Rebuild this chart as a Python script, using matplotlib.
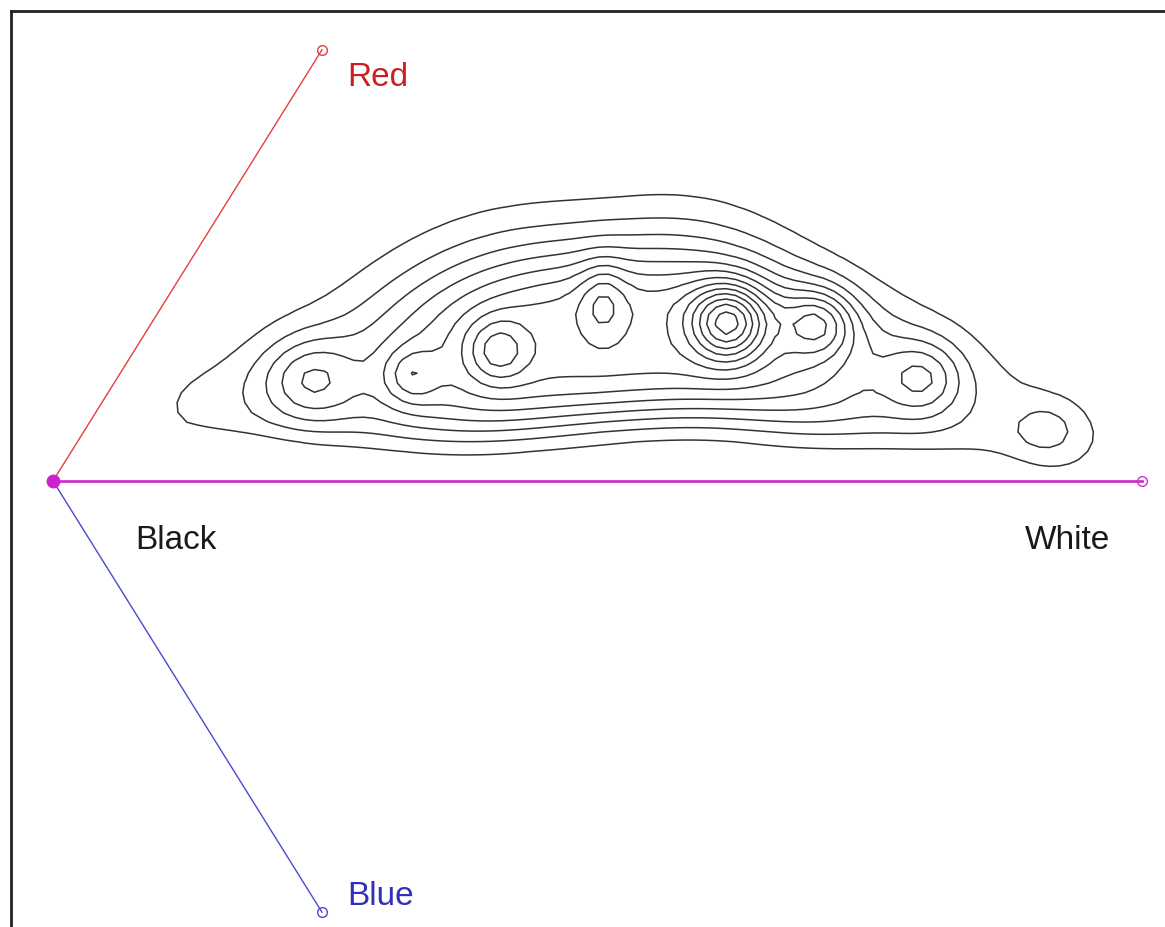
import numpy as np
import matplotlib.pyplot as plt

# colour-space projection: black at origin, white along +x
axis_names = ["Red", "White", "Blue"]
axis_tip_x = [0.247, 1.0, 0.247]
axis_tip_y = [0.396, 0.0, -0.396]
axis_colors = ["#e04040", "#cc33cc", "#4a4ad0"]

label_text = ["Red", "Blue", "Black", "White"]
label_x = [0.270, 0.270, 0.0753, 0.9706]
label_y = [0.3627, -0.389, -0.0624, -0.0624]
label_ha = ["left", "left", "left", "right"]
label_colors = ["#cc2020", "#3030b8", "#1a1a1a", "#1a1a1a"]

# broad ridge of the distribution: centre x, centre y, height,
# spread above the crest, spread below it (flat-topped, steep edge)
ridge_x = [0.12, 0.17, 0.22, 0.27, 0.32, 0.37, 0.42, 0.47, 0.52, 0.57, 0.62, 0.67, 0.72, 0.77, 0.82, 0.87, 0.92, 0.96]
ridge_y = [0.068, 0.080, 0.092, 0.103, 0.115, 0.127, 0.140, 0.148, 0.150, 0.152, 0.150, 0.140, 0.122, 0.100, 0.080, 0.060, 0.040, 0.028]
ridge_h = [0.62, 0.72, 0.95, 1.10, 1.90, 2.90, 3.30, 3.40, 3.40, 3.40, 3.30, 2.90, 2.20, 1.20, 0.85, 0.65, 0.45, 0.35]
ridge_up = [0.028, 0.032, 0.042, 0.050, 0.056, 0.058, 0.058, 0.054, 0.054, 0.058, 0.054, 0.045, 0.040, 0.045, 0.048, 0.045, 0.040, 0.035]
ridge_dn = [0.025, 0.032, 0.045, 0.058, 0.068, 0.075, 0.082, 0.082, 0.081, 0.079, 0.078, 0.079, 0.070, 0.058, 0.045, 0.036, 0.040, 0.030]
ridge_sx = 0.045

# local modes: centre x, centre y, height, spread x, spread y
peak_x = [0.236, 0.328, 0.408, 0.505, 0.620, 0.704, 0.799, 0.913]
peak_y = [0.093, 0.097, 0.120, 0.166, 0.146, 0.146, 0.095, 0.047]
peak_h = [2.9, 2.3, 2.8, 2.0, 6.5, 3.6, 3.0, 1.5]
peak_sx = [0.030, 0.018, 0.020, 0.015, 0.024, 0.022, 0.025, 0.022]
peak_sy = [0.027, 0.018, 0.020, 0.025, 0.024, 0.022, 0.024, 0.018]

levels = list(range(1, 15))

fig = plt.figure(figsize=(11.65, 9.27), dpi=100)
ax = fig.add_axes([11 / 1165, 0, 1 - 11 / 1165, 916 / 927])
ax.set_xlim(-0.03857, 1.0211)
ax.set_ylim(-0.4096, 0.4316)
ax.set_xticks([])
ax.set_yticks([])
for side in ["right", "bottom"]:
    ax.spines[side].set_visible(False)
for side in ["left", "top"]:
    ax.spines[side].set_linewidth(2)
    ax.spines[side].set_color("#222222")

gx = np.arange(0.06, 1.0, 0.009)
gy = np.arange(0.0, 0.33, 0.009)
X, Y = np.meshgrid(gx, gy)
Z = np.zeros_like(X)
for cx, cy, h, su, sd in zip(ridge_x, ridge_y, ridge_h, ridge_up, ridge_dn):
    across = np.where(Y > cy, ((Y - cy) / su) ** 2, ((Y - cy) / sd) ** 4)
    Z += h * np.exp(-0.5 * (((X - cx) / ridge_sx) ** 2 + across))
for cx, cy, h, sx, sy in zip(peak_x, peak_y, peak_h, peak_sx, peak_sy):
    Z += h * np.exp(-0.5 * (((X - cx) / sx) ** 2 + ((Y - cy) / sy) ** 2))
ax.contour(X, Y, Z, levels=levels, colors="#333333", linewidths=1.1)

for name, tx, ty, col in zip(axis_names, axis_tip_x, axis_tip_y, axis_colors):
    lw = 2.0 if name == "White" else 1.0
    ax.plot([0, tx], [0, ty], color=col, lw=lw, zorder=3)
    ax.plot(tx, ty, "o", ms=7, mfc="none", mec=col, mew=1.0, zorder=4)
ax.plot(0, 0, "o", ms=9, color="#cc22cc", zorder=5)

for t, x, y, ha, col in zip(label_text, label_x, label_y, label_ha, label_colors):
    ax.text(x, y, t, ha=ha, va="baseline", fontsize=24, color=col,
            family="Liberation Sans")

fig.savefig("out.png", dpi=100)
